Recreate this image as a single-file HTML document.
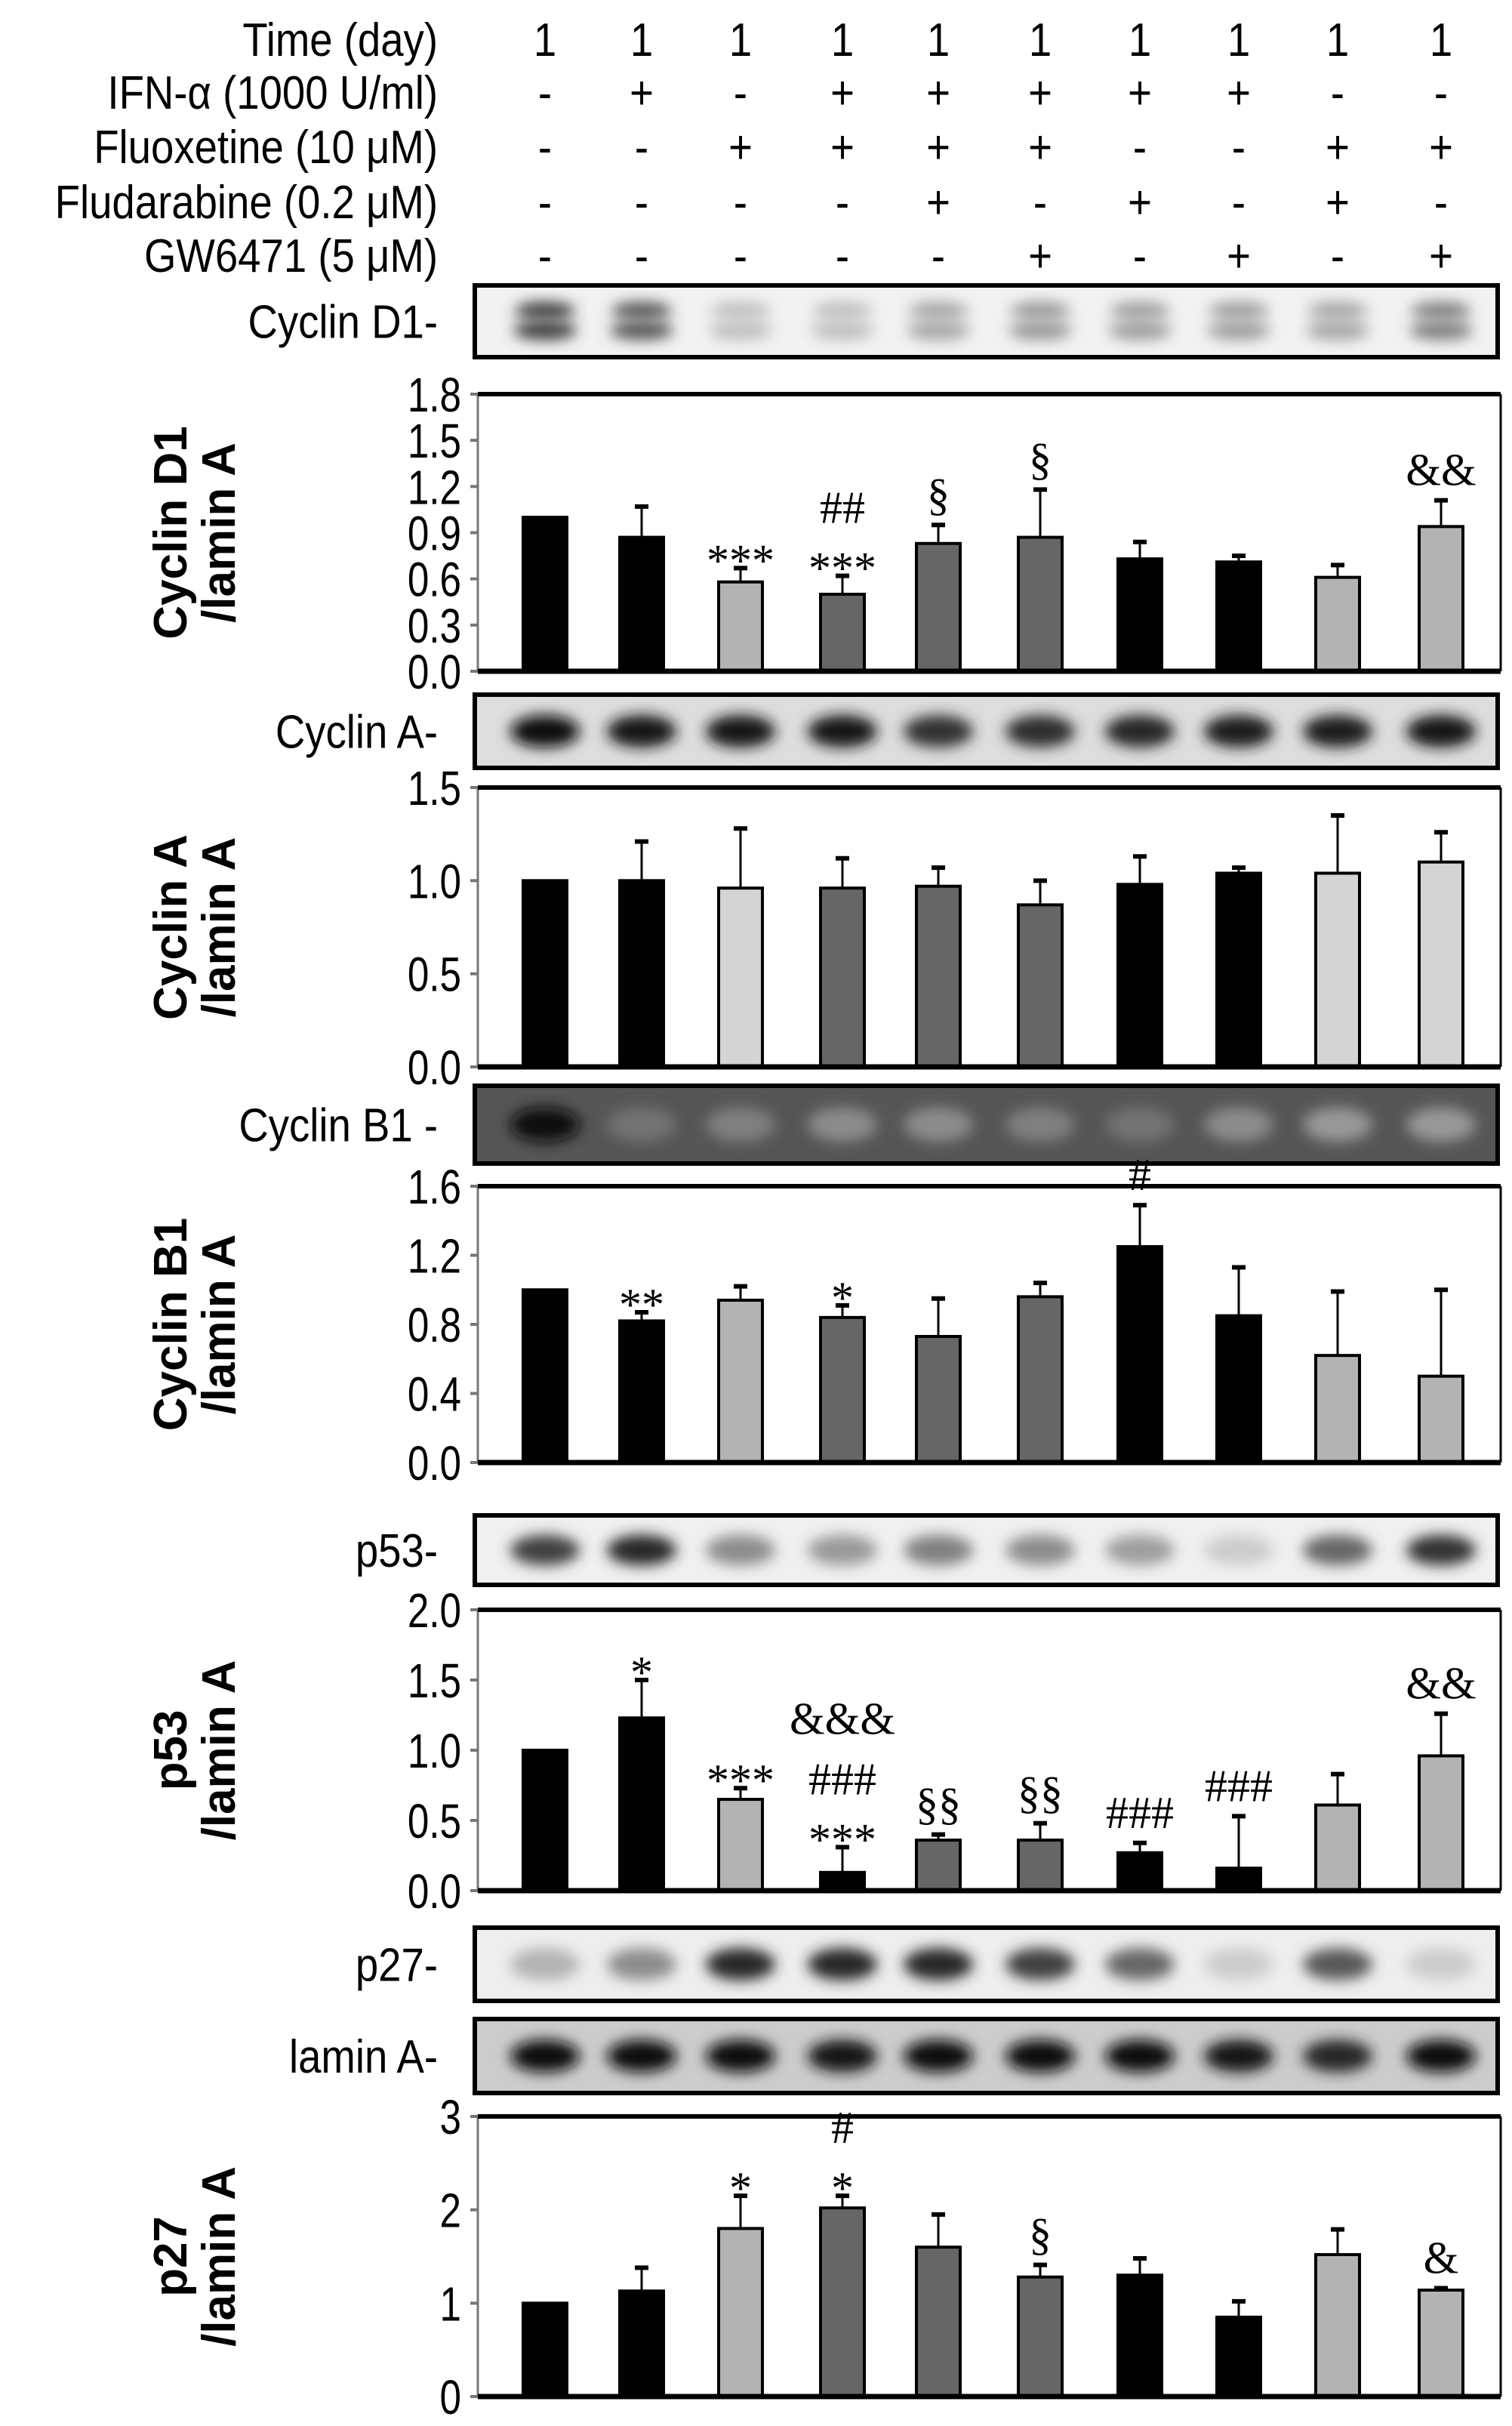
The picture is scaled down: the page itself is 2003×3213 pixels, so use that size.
<!DOCTYPE html>
<html><head><meta charset="utf-8">
<style>
html,body{margin:0;padding:0;background:#fff;}
svg{display:block;}
text{font-family:"Liberation Sans",sans-serif;}
.hdr{font-size:62px;}
.tick{font-size:64px;}
.ann{font-family:"Liberation Serif",serif;font-size:60px;}
.ytitle{font-size:62px;font-weight:bold;}
</style></head>
<body>
<svg id="fig" width="2003" height="3213" viewBox="0 0 2003 3213" xmlns="http://www.w3.org/2000/svg">
<defs><filter id="blur" x="-30%" y="-60%" width="160%" height="220%"><feGaussianBlur stdDeviation="9"/></filter></defs>
</svg>
<script>
// ---- data ----
const lanes = [1,2,3,4,5,6,7,8,9,10];
const lanesX = [722,850,981,1116,1243,1378,1510,1641,1772,1909];
const headerLabels = ["Time (day)","IFN-\u03b1 (1000 U/ml)","Fluoxetine (10 \u03bcM)","Fludarabine (0.2 \u03bcM)","GW6471 (5 \u03bcM)"];
const timeRow = ["1","1","1","1","1","1","1","1","1","1"];
const ifnRow = ["-","+","-","+","+","+","+","+","-","-"];
const fluoxRow = ["-","-","+","+","+","+","-","-","+","+"];
const fludaRow = ["-","-","-","-","+","-","+","-","+","-"];
const gwRow = ["-","-","-","-","-","+","-","+","-","+"];

const d1Values = [1.0,0.87,0.58,0.50,0.83,0.87,0.73,0.71,0.61,0.94];
const d1Errors = [0,0.20,0.09,0.12,0.12,0.31,0.11,0.04,0.08,0.17];
const d1Ticks = ["0.0","0.3","0.6","0.9","1.2","1.5","1.8"];
const d1Ann = [[],[],["***"],["***","##"],["\u00a7"],["\u00a7"],[],[],[],["&&"]];

const aValues = [1.0,1.0,0.96,0.96,0.97,0.87,0.98,1.04,1.04,1.10];
const aErrors = [0,0.21,0.32,0.16,0.10,0.13,0.15,0.03,0.31,0.16];
const aTicks = ["0.0","0.5","1.0","1.5"];
const aAnn = [[],[],[],[],[],[],[],[],[],[]];

const b1Values = [1.0,0.82,0.94,0.84,0.73,0.96,1.25,0.85,0.62,0.50];
const b1Errors = [0,0.05,0.08,0.07,0.22,0.08,0.24,0.28,0.37,0.50];
const b1Ticks = ["0.0","0.4","0.8","1.2","1.6"];
const b1Ann = [[],["**"],[],["*"],[],[],["#"],[],[],[]];

const p53Values = [1.0,1.23,0.65,0.13,0.36,0.36,0.27,0.16,0.61,0.96];
const p53Errors = [0,0.27,0.08,0.18,0.04,0.12,0.07,0.37,0.22,0.30];
const p53Ticks = ["0.0","0.5","1.0","1.5","2.0"];
const p53Ann = [[],["*"],["***"],["***","###","&&&"],["\u00a7\u00a7"],["\u00a7\u00a7"],["###"],["###"],[],["&&"]];

const p27Values = [1.0,1.13,1.80,2.02,1.60,1.28,1.30,0.85,1.52,1.14];
const p27Errors = [0,0.25,0.35,0.13,0.35,0.13,0.18,0.17,0.27,0.02];
const p27Ticks = ["0","1","2","3"];
const p27Ann = [[],[],["*"],["*","#"],[],["\u00a7"],[],[],[],["&"]];

const blotD1 = [0.75,0.65,0.25,0.25,0.35,0.4,0.38,0.38,0.35,0.5];
const blotA = [0.95,0.9,0.9,0.9,0.8,0.82,0.85,0.88,0.88,0.92];
const blotB1 = [0.95,0.55,0.5,0.45,0.45,0.5,0.55,0.45,0.4,0.4];
const blotP53 = [0.75,0.85,0.45,0.4,0.5,0.45,0.38,0.2,0.6,0.8];
const blotP27 = [0.3,0.45,0.85,0.85,0.85,0.75,0.6,0.2,0.65,0.2];
const blotLamin = [0.95,0.95,0.95,0.9,0.95,0.95,0.95,0.9,0.85,0.95];

// ---- drawing ----
const svg = document.getElementById('fig');
const NS = 'http://www.w3.org/2000/svg';
function mk(tag, attrs, parent){const e=document.createElementNS(NS,tag);for(const k in attrs)e.setAttribute(k,attrs[k]);(parent||svg).appendChild(e);return e;}
const LEFT=633, RIGHT=1988, BW=58, LABELX=580;
function ctext(x,y,anchor,cls,sx,parent){return mk('text',{x:0,y:0,transform:`translate(${x},${y}) scale(${sx},1)`,'text-anchor':anchor,class:cls},parent);}

// header
const rows=[timeRow,ifnRow,fluoxRow,fludaRow,gwRow];
const rowY=[52,122,194,267,338];
rows.forEach((r,ri)=>{
  const t=ctext(LABELX,rowY[ri]+22,'end','hdr',0.88);
  
  
  t.textContent=headerLabels[ri];
  r.forEach((s,i)=>{
    const c=ctext(lanesX[i],rowY[ri]+22,'middle','hdr',0.88);
    
    
    c.textContent=s;
  });
});

function blot(name,label,y0,y1,intens,bg,double){
  const g=mk('g',{});
  
  
  mk('rect',{x:629,y:y0,width:1355,height:y1-y0,fill:bg},g);
  const cy=(y0+y1)/2;
  intens.forEach((v,i)=>{
    const sh=Math.round(255*(1-v));
    const col=`rgb(${sh},${sh},${sh})`;
    if(double){
      mk('ellipse',{cx:lanesX[i],cy:cy-14,rx:40,ry:12,fill:col,filter:'url(#blur)'},g);
      mk('ellipse',{cx:lanesX[i],cy:cy+12,rx:42,ry:13,fill:col,filter:'url(#blur)'},g);
    } else {
      mk('ellipse',{cx:lanesX[i],cy:cy,rx:46,ry:(y1-y0)*0.22,fill:col,filter:'url(#blur)'},g);
    }
  });
  mk('rect',{x:629,y:y0,width:1355,height:y1-y0,fill:'none',stroke:'#000','stroke-width':6},g);
  const t=ctext(LABELX,cy+22,'end','hdr',0.88,g);
  
  
  t.textContent=label;
}

const colors={K:'#000',L:'#b3b3b3',D:'#666'};
function chart(name,title,top,bot,vals,errs,ticks,maxV,ann,pattern,lightCol){
  const g=mk('g',{});
  
  
  const y=v=>bot-(v/maxV)*(bot-top);
  mk('line',{x1:LEFT,y1:top,x2:LEFT,y2:bot,stroke:'#777','stroke-width':3},g);
  mk('line',{x1:RIGHT,y1:top,x2:RIGHT,y2:bot,stroke:'#000','stroke-width':3},g);
  mk('line',{x1:LEFT,y1:top,x2:RIGHT,y2:top,stroke:'#000','stroke-width':6},g);
  ticks.forEach((tk,i)=>{
    const v=parseFloat(tk), yy=y(v);
    mk('line',{x1:LEFT-10,y1:yy,x2:LEFT,y2:yy,stroke:'#777','stroke-width':4},g);
    const t=ctext(LEFT-22,yy+23,'end','tick',0.8,g);
    
    
    t.textContent=tk;
  });
  vals.forEach((v,i)=>{
    const cx=lanesX[i], yt=y(v), ye=y(v+errs[i]);
    const p=pattern[i];
    const fill=p==='L'?(lightCol||colors.L):colors[p];
    if(errs[i]>0){
      mk('line',{x1:cx,y1:yt,x2:cx,y2:ye,stroke:'#000','stroke-width':3},g);
      mk('line',{x1:cx-9,y1:ye,x2:cx+9,y2:ye,stroke:'#000','stroke-width':6},g);
    }
    const r=mk('rect',{x:cx-BW/2,y:yt,width:BW,height:bot-yt,fill:fill,stroke:'#000','stroke-width':4},g);
    
    
    let ay=ye-20;
    ann[i].forEach(a=>{
      const star=a.indexOf('*')>=0;
      const t=mk('text',{x:cx,y:ay+(star?30:0),'text-anchor':'middle',class:'ann'},g);
      
      
      t.textContent=a;
      ay-=star?50:80;
    });
  });
  mk('line',{x1:LEFT,y1:bot,x2:RIGHT,y2:bot,stroke:'#000','stroke-width':7},g);
  const cy=(top+bot)/2;
  const tt=mk('text',{transform:`translate(255,${cy}) rotate(-90)`,'text-anchor':'middle',class:'ytitle'},g);
  
  
  const s1=mk('tspan',{x:0,dy:-8},tt); s1.textContent=title[0];
  const s2=mk('tspan',{x:0,dy:64},tt); s2.textContent=title[1];
}

blot('cyclin-d1-blot','Cyclin D1-',378,473,blotD1,'#f2f2f2',true);
chart('cyclin-d1-chart',['Cyclin D1','/lamin A'],522,889,d1Values,d1Errors,d1Ticks,1.8,d1Ann,'KKLDDDKKLL'.split(''));
blot('cyclin-a-blot','Cyclin A-',920,1017,blotA,'#ddd',false);
chart('cyclin-a-chart',['Cyclin A','/lamin A'],1043,1413,aValues,aErrors,aTicks,1.5,aAnn,'KKLDDDKKLL'.split(''),'#d4d4d4');
blot('cyclin-b1-blot','Cyclin B1 -',1438,1541,blotB1,'#555',false);
chart('cyclin-b1-chart',['Cyclin B1','/lamin A'],1571,1937,b1Values,b1Errors,b1Ticks,1.6,b1Ann,'KKLDDDKKLL'.split(''));
blot('p53-blot','p53-',2007,2099,blotP53,'#f0f0f0',false);
chart('p53-chart',['p53','/lamin A'],2132,2504,p53Values,p53Errors,p53Ticks,2.0,p53Ann,'KKLKDDKKLL'.split(''));
blot('p27-blot','p27-',2553,2650,blotP27,'#eee',false);
blot('lamin-a-blot','lamin A-',2674,2772,blotLamin,'#ccc',false);
chart('p27-chart',['p27','/lamin A'],2803,3174,p27Values,p27Errors,p27Ticks,3,p27Ann,'KKLDDDKKLL'.split(''));
</script>
</body></html>
